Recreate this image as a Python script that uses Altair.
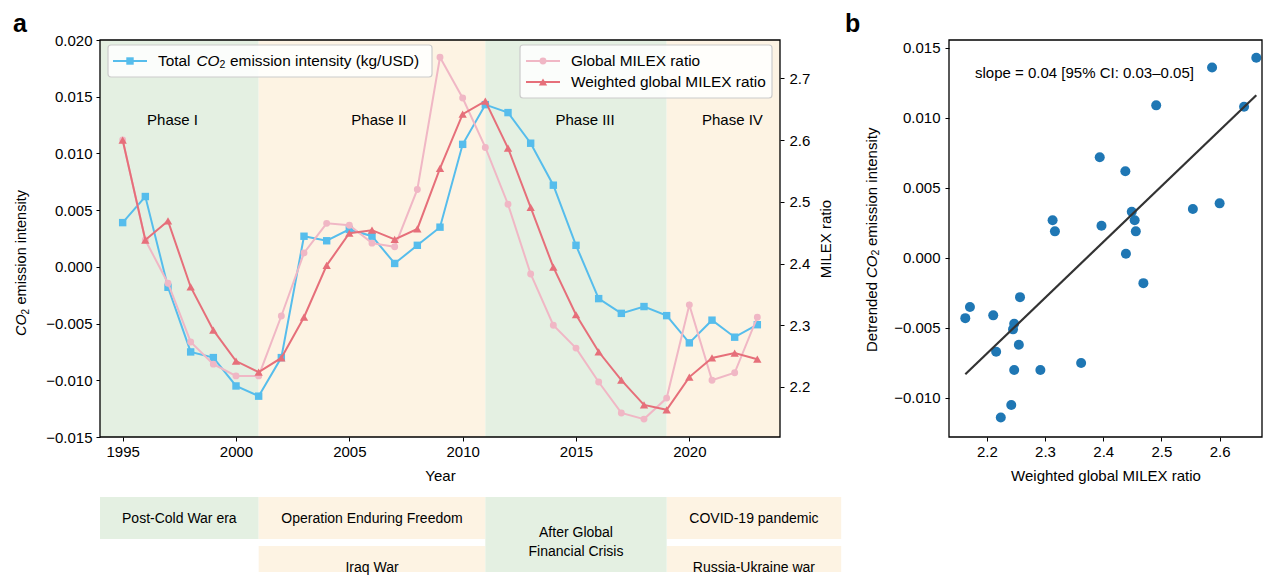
import altair as alt
import pandas as pd

# ---------------- data ----------------
years = list(range(1995, 2024))
co2_intensity = [0.0039, 0.0062, -0.0018, -0.0075, -0.0080, -0.0105, -0.0114, -0.0080,
                 0.0027, 0.0023, 0.0033, 0.0027, 0.0003, 0.0019, 0.0035, 0.0108,
                 0.0143, 0.0136, 0.0109, 0.0072, 0.0019, -0.0028, -0.0041, -0.0035,
                 -0.0043, -0.0067, -0.0047, -0.0062, -0.0051]
milex_ratio = [2.600, 2.438, 2.368, 2.273, 2.237, 2.218, 2.218, 2.315, 2.417, 2.465,
               2.462, 2.433, 2.427, 2.520, 2.734, 2.668, 2.588, 2.496, 2.383, 2.300,
               2.263, 2.208, 2.158, 2.148, 2.182, 2.333, 2.211, 2.223, 2.313]
weighted_milex = [2.600, 2.438, 2.469, 2.362, 2.292, 2.242, 2.224, 2.247, 2.313, 2.397,
                  2.449, 2.454, 2.439, 2.456, 2.554, 2.642, 2.663, 2.587, 2.491, 2.394,
                  2.317, 2.257, 2.211, 2.171, 2.163, 2.216, 2.247, 2.255, 2.245]

phase_names = ["Phase I", "Phase II", "Phase III", "Phase IV"]
phase_start = [1994, 2001, 2011, 2019]
phase_end = [2001, 2011, 2019, 2024]
phase_kind = ["green", "orange", "green", "orange"]
phase_label_year = [1997.2, 2006.3, 2015.4, 2021.9]

event_names = ["Post-Cold War era", "Operation Enduring Freedom", "After Global\nFinancial Crisis",
               "COVID-19 pandemic", "Iraq War", "Russia-Ukraine war"]
event_start = [1994, 2001, 2011, 2019, 2001, 2019]
event_end = [2001, 2011, 2019, 2026.7, 2011, 2026.7]
event_kind = ["green", "orange", "green", "orange", "orange", "orange"]
event_row = ["top", "top", "span", "top", "bottom", "bottom"]

slope_text = "slope = 0.04 [95% CI: 0.03\u20130.05]"

# ---------------- style ----------------
FONT = "Liberation Sans"
BLUE = "#56bdec"
PINK = "#f0b7c5"
RED = "#e66f7a"
GREEN_BG = "#e4f0e2"
ORANGE_BG = "#fdf3e3"
DOT = "#1f77b4"

W1, H1 = 680, 397
W2, H2 = 313, 397

df = pd.DataFrame({"Year": years, "CO2": co2_intensity, "MILEX": milex_ratio, "WMILEX": weighted_milex})
phase_df = pd.DataFrame({"name": phase_names, "start": phase_start, "end": phase_end,
                         "kind": phase_kind, "lx": phase_label_year})
event_df = pd.DataFrame({"name": event_names, "start": event_start, "end": event_end,
                         "kind": event_kind, "row": event_row})
one = pd.DataFrame({"k": [0]})

kind_scale = alt.Scale(domain=["green", "orange"], range=[GREEN_BG, ORANGE_BG])


def txt(x, y, s, size=15, style="normal", weight="normal", align="left",
        baseline="middle", angle=0):
    kw = dict(text=s, fontSize=size, font=FONT, fontStyle=style, fontWeight=weight,
              align=align, baseline=baseline, color="black")
    if angle:
        kw["angle"] = angle
    return alt.Chart(one).mark_text(**kw).encode(x=alt.value(x), y=alt.value(y))


def box(x1, x2, y1, y2, **kw):
    return alt.Chart(one).mark_rect(**kw).encode(
        x=alt.value(x1), x2=alt.value(x2), y=alt.value(y1), y2=alt.value(y2))


def hline(x1, x2, y, color):
    return alt.Chart(one).mark_rule(color=color, strokeWidth=2).encode(
        x=alt.value(x1), x2=alt.value(x2), y=alt.value(y))


def marker(x, y, shape, color, size):
    return alt.Chart(one).mark_point(shape=shape, filled=True, color=color, size=size,
                                     opacity=1).encode(x=alt.value(x), y=alt.value(y))


# ---------------- left panel ----------------
xs = alt.Scale(domain=[1994, 2024], nice=False, zero=False)
ys_co2 = alt.Scale(domain=[-0.015, 0.020], nice=False, zero=False)
ys_mil = alt.Scale(domain=[2.119, 2.762], nice=False, zero=False)

x_axis = alt.Axis(values=[1995, 2000, 2005, 2010, 2015, 2020], format="d", title="Year",
                  labelPadding=3, titlePadding=9)
y_left_axis = alt.Axis(values=[-0.015, -0.010, -0.005, 0.0, 0.005, 0.010, 0.015, 0.020],
                       format=".3f", title=None, labelPadding=4)
y_right_axis = alt.Axis(values=[2.2, 2.3, 2.4, 2.5, 2.6, 2.7], format=".1f", orient="right",
                        title="MILEX ratio", labelPadding=5, titlePadding=9,
                        titleAngle=270, titleBaseline="top")


def X(field):
    return alt.X(field, type="quantitative", scale=xs, axis=x_axis, title="Year")


bg = alt.Chart(phase_df).mark_rect().encode(
    x=X("start"), x2="end",
    y=alt.value(0), y2=alt.value(H1),
    color=alt.Color("kind:N", scale=kind_scale, legend=None))

phase_labels = alt.Chart(phase_df).mark_text(font=FONT, fontSize=15, color="black",
                                             align="center", baseline="middle").encode(
    x=X("lx"), y=alt.value(80), text="name:N")

blue_line = alt.Chart(df).mark_line(
    color=BLUE, strokeWidth=2,
    point=alt.OverlayMarkDef(shape="square", size=55, filled=True, color=BLUE, opacity=1)
).encode(x=X("Year"),
         y=alt.Y("CO2:Q", scale=ys_co2, axis=y_left_axis))

# bottom event boxes
ev_top = alt.Chart(event_df).transform_filter(alt.datum.row == "top")
ev_bot = alt.Chart(event_df).transform_filter(alt.datum.row == "bottom")
ev_span = alt.Chart(event_df).transform_filter(alt.datum.row == "span")


def ev_rect(base, y1, y2):
    return base.mark_rect().encode(
        x=X("start"), x2="end",
        y=alt.value(y1), y2=alt.value(y2),
        color=alt.Color("kind:N", scale=kind_scale, legend=None))


def ev_text(base, y):
    return base.transform_calculate(mid="(datum.start + datum.end) / 2").mark_text(
        font=FONT, fontSize=14, color="black", align="center", baseline="middle",
        lineBreak="\n", lineHeight=19).encode(
        x=X("mid"), y=alt.value(y), text="name:N")


events = alt.layer(
    ev_rect(ev_top, 457, 499), ev_rect(ev_bot, 506, 532), ev_rect(ev_span, 457, 532),
    ev_text(ev_top, 478.5), ev_text(ev_bot, 527.5), ev_text(ev_span, 493),
)

left_group = alt.layer(bg, phase_labels, blue_line, events)

pink_line = alt.Chart(df).mark_line(
    color=PINK, strokeWidth=2,
    point=alt.OverlayMarkDef(shape="circle", size=48, filled=True, color=PINK, opacity=1)
).encode(x=X("Year"),
         y=alt.Y("MILEX:Q", scale=ys_mil, axis=y_right_axis))
red_line = alt.Chart(df).mark_line(
    color=RED, strokeWidth=2,
    point=alt.OverlayMarkDef(shape="triangle-up", size=70, filled=True, color=RED, opacity=1)
).encode(x=X("Year"),
         y=alt.Y("WMILEX:Q", scale=ys_mil, axis=y_right_axis))
right_group = alt.layer(pink_line, red_line)

LF = 15.4
legend_a = alt.layer(
    box(8, 332, 5, 37, fill="white", fillOpacity=0.85, stroke="#cccccc", strokeWidth=1.2, cornerRadius=3),
    hline(13, 47, 21, BLUE), marker(30, 21, "square", BLUE, 55),
    txt(58, 21, "Total", size=LF), txt(96.5, 21, "CO", size=LF, style="italic"),
    txt(119.5, 25, "2", size=10.5), txt(130, 21, "emission intensity (kg/USD)", size=LF),
)
legend_b = alt.layer(
    box(420, 672, 5, 58, fill="white", fillOpacity=0.85, stroke="#cccccc", strokeWidth=1.2, cornerRadius=3),
    hline(426, 460, 21, PINK), marker(443, 21, "circle", PINK, 48),
    hline(426, 460, 42, RED), marker(443, 42, "triangle-up", RED, 70),
    txt(471, 21, "Global MILEX ratio", size=LF), txt(471, 42, "Weighted global MILEX ratio", size=LF),
)
left_deco = alt.layer(
    box(0, W1, 0, H1, fill="transparent", stroke="black", strokeWidth=1.3),
    legend_a, legend_b,
    txt(-87, -28, "a", size=25, weight="bold", baseline="top"),
    # rotated y title: CO2 emission intensity
    txt(-78, 296, "CO", size=14.5, style="italic", angle=270),
    txt(-74, 274.5, "2", size=10, angle=270),
    txt(-78, 264.5, "emission intensity", size=14.5, angle=270),
)

left = alt.layer(left_group, right_group, left_deco).resolve_scale(y="independent").properties(
    width=W1, height=H1)

# ---------------- right panel ----------------
xs2 = alt.Scale(domain=[2.135, 2.135 + W2 / 582.0], nice=False, zero=False)
ys2 = alt.Scale(domain=[-0.01279, 0.01557], nice=False, zero=False)
x2_axis = alt.Axis(values=[2.2, 2.3, 2.4, 2.5, 2.6], format=".1f",
                   title="Weighted global MILEX ratio", labelPadding=3, titlePadding=9)
y2_axis = alt.Axis(values=[-0.010, -0.005, 0.0, 0.005, 0.010, 0.015], format=".3f",
                   title=None, labelPadding=5)

pts = alt.Chart(df).mark_circle(size=100, color=DOT, opacity=1).encode(
    x=alt.X("WMILEX:Q", scale=xs2, axis=x2_axis),
    y=alt.Y("CO2:Q", scale=ys2, axis=y2_axis))
reg = alt.Chart(df).transform_regression("WMILEX", "CO2").mark_line(
    color="#333333", strokeWidth=2.2).encode(
    x=alt.X("WMILEX:Q", scale=xs2, axis=x2_axis),
    y=alt.Y("CO2:Q", scale=ys2, axis=y2_axis))

right = alt.layer(
    pts, reg,
    txt(26, 33, slope_text),
    box(0, W2, 0, H2, fill="transparent", stroke="black", strokeWidth=1.3),
    txt(-104, -28, "b", size=25, weight="bold", baseline="top"),
    txt(-77, 312, "Detrended", angle=270),
    txt(-77, 238, "CO", style="italic", angle=270),
    txt(-73, 215.5, "2", size=10.5, angle=270),
    txt(-77, 206, "emission intensity", angle=270),
).properties(width=W2, height=H2)

chart = alt.hconcat(left, right, spacing=3).properties(
    padding={"left": 5, "top": 4, "right": 0, "bottom": 0}
).configure(font=FONT).configure_view(stroke=None).configure_axis(
    labelFont=FONT, labelFontSize=15, labelColor="black", tickColor="black",
    tickSize=4, tickWidth=1, domain=False, grid=False, titleFont=FONT,
    titleFontSize=15, titleFontWeight="normal", titleColor="black", zindex=1
)

chart.save("out.html", embed_options={"renderer": "svg", "actions": False})
